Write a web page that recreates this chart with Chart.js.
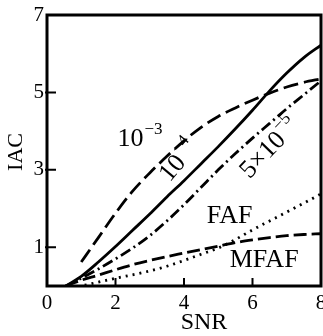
<!DOCTYPE html>
<html>
<head>
<meta charset="utf-8">
<script src="https://cdn.jsdelivr.net/npm/chart.js@4.4.1/dist/chart.umd.min.js"></script>
<style>
  html, body { margin: 0; padding: 0; background: #fff; }
</style>
</head>
<body>
<canvas id="chart1" width="323" height="336"></canvas>
<script>
'use strict';

// SNR grid shared by most curves
var snr = [0.55, 1, 1.5, 2, 2.5, 3, 3.5, 4, 4.5, 5, 5.5, 6, 6.5, 7, 7.5, 8];
// the 10^-3 curve only starts at SNR = 1
var snrE3 = [1, 1.5, 2, 2.5, 3, 3.5, 4, 4.5, 5, 5.5, 6, 6.5, 7, 7.5, 8];
// FAF dotted curve starts a bit later
var snrFaf = [1.1, 1.5, 2, 2.5, 3, 3.5, 4, 4.5, 5, 5.5, 6, 6.5, 7, 7.5, 8];

var iacE3   = [0.62, 1.25, 1.88, 2.45, 2.92, 3.35, 3.75, 4.1, 4.38, 4.6, 4.8, 4.98, 5.14, 5.26, 5.35];
var iacE4   = [0, 0.25, 0.62, 1.02, 1.44, 1.86, 2.3, 2.72, 3.16, 3.6, 4.06, 4.54, 5.04, 5.5, 5.9, 6.22];
var iac5E5  = [0, 0.2, 0.44, 0.7, 0.98, 1.3, 1.68, 2.1, 2.55, 3.0, 3.42, 3.82, 4.2, 4.58, 4.94, 5.3];
var iacFaf  = [0.02, 0.1, 0.2, 0.29, 0.39, 0.51, 0.66, 0.82, 0.98, 1.2, 1.45, 1.68, 1.91, 2.14, 2.38];
var iacMfaf = [0, 0.15, 0.28, 0.42, 0.55, 0.66, 0.76, 0.85, 0.94, 1.03, 1.12, 1.19, 1.25, 1.3, 1.33, 1.35];

var yTickValues = [1, 3, 5, 7];
var xTickValues = [0, 2, 4, 6, 8];

// text put next to the curves, anchored in data units
var curveLabels = [
  { text: '10', sup: '\u22123', x: 2.7, y: 3.85, angle: 0 },
  { text: '10', sup: '\u22124', x: 3.8, y: 3.25, angle: -50 },
  { text: '5\u00d710', sup: '\u22125', x: 6.45, y: 3.58, angle: -46 },
  { text: 'FAF', x: 5.33, y: 1.87, angle: 0 },
  { text: 'MFAF', x: 6.34, y: 0.72, angle: 0 }
];

(function (global) {

  var SERIF = '"Liberation Serif", "DejaVu Serif", serif';

  function toPoints(xs, ys) {
    return xs.map(function (x, i) {
      return { x: x, y: ys[i] };
    });
  }

  function makeDataset(label, xs, ys, dash) {
    return {
      label: label,
      data: toPoints(xs, ys),
      borderColor: '#000',
      borderWidth: 2.8,
      borderDash: dash,
      pointRadius: 0,
      fill: false,
      cubicInterpolationMode: 'monotone'
    };
  }

  /**
   * Draws the frame, inward tick marks, axis titles and curve labels.
   */
  var decorations = {
    id: 'decorations',
    afterDatasetsDraw: function (chart) {
      var ctx = chart.ctx;
      var area = chart.chartArea;
      var xs = chart.scales.x;
      var ys = chart.scales.y;

      ctx.save();
      ctx.strokeStyle = '#000';
      ctx.lineWidth = 3;
      ctx.setLineDash([]);
      ctx.strokeRect(area.left, area.top, area.right - area.left, area.bottom - area.top);

      ctx.lineWidth = 2;
      ctx.beginPath();
      [2, 4, 6].forEach(function (v) {
        var px = xs.getPixelForValue(v);
        ctx.moveTo(px, area.bottom);
        ctx.lineTo(px, area.bottom - 8);
      });
      [1, 3, 5].forEach(function (v) {
        var py = ys.getPixelForValue(v);
        ctx.moveTo(area.left - 2, py);
        ctx.lineTo(area.left + 9, py);
      });
      ctx.stroke();

      ctx.fillStyle = '#000';
      ctx.font = '24px ' + SERIF;
      ctx.textAlign = 'center';
      ctx.textBaseline = 'middle';
      ctx.fillText('SNR', 204, 323);

      ctx.save();
      ctx.translate(16, 152);
      ctx.rotate(-Math.PI / 2);
      ctx.font = '22px ' + SERIF;
      ctx.fillText('IAC', 0, 0);
      ctx.restore();

      curveLabels.forEach(function (lab) {
        drawLabel(ctx, lab, xs.getPixelForValue(lab.x), ys.getPixelForValue(lab.y));
      });
      ctx.restore();
    }
  };

  function drawLabel(ctx, lab, px, py) {
    ctx.save();
    ctx.translate(px, py);
    ctx.rotate(lab.angle * Math.PI / 180);
    ctx.textBaseline = 'alphabetic';
    ctx.textAlign = 'left';
    ctx.font = '26px ' + SERIF;
    var w1 = ctx.measureText(lab.text).width;
    var w2 = 0;
    if (lab.sup) {
      ctx.font = '17px ' + SERIF;
      w2 = ctx.measureText(lab.sup).width;
    }
    var start = -(w1 + w2) / 2;
    ctx.font = '26px ' + SERIF;
    ctx.fillText(lab.text, start, 9);
    if (lab.sup) {
      ctx.font = '17px ' + SERIF;
      ctx.fillText(lab.sup, start + w1 + 1, -3);
    }
    ctx.restore();
  }

  function renderChart() {
    var ctx = document.getElementById('chart1').getContext('2d');
    return new Chart(ctx, {
      type: 'line',
      data: {
        datasets: [
          makeDataset('10^-3', snrE3, iacE3, [15, 6]),
          makeDataset('10^-4', snr, iacE4, []),
          makeDataset('5x10^-5', snr, iac5E5, [11, 4, 2, 4]),
          makeDataset('FAF', snrFaf, iacFaf, [2, 5]),
          makeDataset('MFAF', snr, iacMfaf, [13, 5])
        ]
      },
      options: {
        responsive: false,
        animation: false,
        layout: { padding: { top: 15, right: 2, left: 0, bottom: 0 } },
        plugins: {
          legend: { display: false },
          tooltip: { enabled: false }
        },
        scales: {
          x: {
            type: 'linear',
            min: 0,
            max: 8,
            grid: { display: false, drawTicks: false },
            border: { display: false },
            afterBuildTicks: function (axis) {
              axis.ticks = xTickValues.map(function (v) { return { value: v }; });
            },
            afterFit: function (axis) {
              axis.height = 50;
              axis.paddingLeft = 0;
              axis.paddingRight = 0;
            },
            ticks: {
              color: '#000',
              padding: 5,
              maxRotation: 0,
              font: { family: SERIF, size: 21 }
            }
          },
          y: {
            type: 'linear',
            min: 0,
            max: 7,
            grid: { display: false, drawTicks: false },
            border: { display: false },
            afterBuildTicks: function (axis) {
              axis.ticks = yTickValues.map(function (v) { return { value: v }; });
            },
            afterFit: function (axis) {
              axis.width = 47;
              axis.paddingTop = 0;
              axis.paddingBottom = 0;
            },
            ticks: {
              color: '#000',
              padding: 3,
              font: { family: SERIF, size: 21 }
            }
          }
        }
      },
      plugins: [decorations]
    });
  }

  global.renderChart = renderChart;

})(this);

renderChart();
</script>
</body>
</html>
